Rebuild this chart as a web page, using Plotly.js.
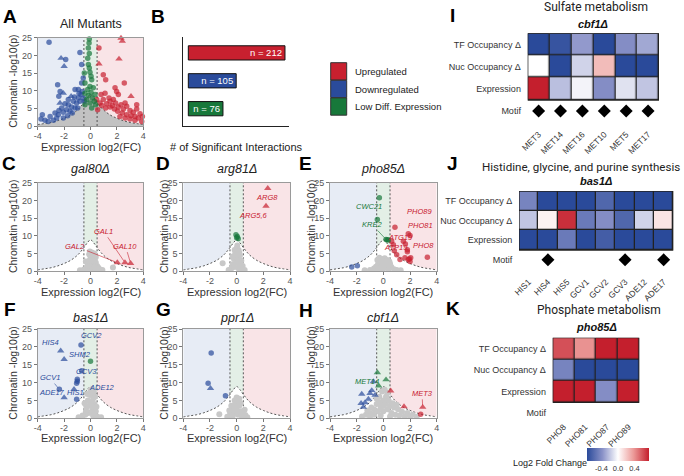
<!DOCTYPE html>
<html><head><meta charset="utf-8">
<script src="https://cdn.plot.ly/plotly-3.0.1.min.js"></script>
<style>html,body{margin:0;padding:0;background:#fff}#chart{width:684px;height:476px}</style>
</head><body><div id="chart"></div>
<script>
const W=684,H=476;
const FONT='"Liberation Sans", Arial, sans-serif';
const ROBOTO='Roboto, "Liberation Sans", sans-serif';
const BLUE='#2a4b9b', RED='#c8202f', GREEN='#17783a', GRAY='#c8c8c8';
const SHADE_BLUE='#e7ecf5', SHADE_GREEN='#e3efe6', SHADE_RED='#f9e4e7';
const FC_CUT=0.5;

// significance threshold curve
const curveX=[-4,-3.5,-3,-2.5,-2,-1.5,-1,-0.75,-0.5,-0.25,0,0.25,0.5,0.75,1,1.5,2,2.5,3,3.5,4];
const curveY=[0.4,0.7,1.0,1.5,2.2,3.1,4.5,5.5,6.7,8.0,8.9,8.0,6.7,5.5,4.5,3.1,2.2,1.5,1.0,0.7,0.4];

// ---- Panel A: All mutants  [x, y, shape]
const A_down=[[-3.14,23.7,'o'],[-2.23,19.2,'t'],[-1.88,18.8,'o'],[-2.0,16.9,'t'],[-0.8,20.8,'o'],[-0.67,17.4,'o'],
 [-2.49,11.7,'o'],[-2.3,9.8,'o'],[-2.06,9.3,'t'],[-2.4,8.4,'o'],[-1.17,10.3,'o'],[-0.92,10.3,'o'],[-0.67,12.2,'o'],[-0.55,13.6,'o'],
 [-3.65,3.2,'o'],[-3.75,2.0,'o'],[-3.45,1.6,'o'],[-3.2,1.3,'o'],[-2.8,1.6,'o'],[-3.06,2.7,'o'],[-2.44,3.2,'o'],[-2.39,4.4,'o'],
 [-2.18,5.1,'o'],[-2.06,3.9,'o'],[-1.81,4.6,'o'],[-1.68,6.0,'o'],[-1.93,6.3,'o'],[-1.55,4.2,'o'],[-1.43,5.4,'o'],[-1.3,7.0,'o'],
 [-1.17,5.1,'o'],[-1.05,6.5,'o'],[-0.92,7.9,'o'],[-0.8,7.0,'o'],[-0.72,8.9,'o'],[-0.62,9.8,'o'],[-0.54,7.9,'o'],[-0.97,5.1,'o'],
 [-1.38,3.7,'o'],[-1.73,2.9,'o'],[-2.06,2.3,'o'],[-2.56,2.3,'o'],[-2.69,3.7,'o'],[-1.68,7.5,'o'],[-2.31,6.5,'t'],[-1.22,8.2,'o'],
 [-1.47,8.4,'t'],[-0.87,9.2,'o'],[-0.47,7.0,'o']];
const A_up=[[2.31,24.9,'t'],[2.41,24.0,'t'],[0.64,22.1,'o'],[2.16,19.0,'t'],[0.64,17.6,'t'],[0.97,14.5,'o'],[1.15,13.1,'o'],
 [2.56,12.2,'o'],[1.86,10.8,'o'],[1.98,9.8,'o'],[2.11,8.9,'o'],[3.07,8.4,'t'],[0.8,8.9,'o'],[1.1,9.3,'o'],
 [0.47,7.5,'o'],[0.72,6.5,'o'],[0.97,7.5,'o'],[1.22,6.3,'o'],[1.48,7.0,'o'],[1.65,5.8,'o'],[1.9,6.5,'o'],[2.1,5.4,'o'],
 [2.31,6.0,'o'],[2.49,4.8,'o'],[2.74,5.6,'o'],[2.99,4.4,'o'],[3.24,3.9,'o'],[3.5,4.8,'o'],[3.75,3.5,'o'],[3.93,2.7,'o'],
 [3.62,2.3,'o'],[3.37,2.7,'o'],[3.07,2.9,'o'],[2.74,3.2,'o'],[2.41,3.7,'o'],[2.06,4.2,'o'],[1.81,4.8,'o'],[1.48,5.4,'o'],
 [1.15,5.1,'o'],[0.85,5.8,'o'],[1.4,7.9,'o'],[1.73,7.5,'o'],[3.88,1.3,'o'],[3.37,1.6,'o'],[2.99,2.0,'o'],[2.62,2.3,'o'],
 [2.23,2.7,'o'],[3.5,6.0,'o'],[2.62,6.5,'o'],[0.54,4.6,'o']];
const A_low=[[-0.09,24.6,'o'],[-0.11,23.5,'o'],[-0.16,22.1,'o'],[-0.09,20.5,'o'],[-0.21,19.2,'o'],[-0.16,17.4,'o'],[-0.09,16.4,'o'],
 [-0.04,15.2,'o'],[-0.47,15.0,'o'],[0.04,14.1,'o'],[0.09,13.1,'o'],[-0.42,12.2,'o'],[-0.04,11.2,'o'],[0.21,10.8,'o'],[-0.21,10.3,'o'],
 [0.04,9.5,'o'],[-0.42,9.3,'o'],[0.34,8.9,'o'],[-0.16,8.6,'o'],[0.14,7.9,'o'],[-0.29,7.5,'o'],[0.29,7.0,'o'],[-0.04,6.5,'o'],
 [-0.42,6.0,'o'],[0.39,6.0,'o'],[0.09,5.1,'o']];

// ---- Panel C: gal80
const C_up=[[2.03,2.45,'t'],[2.61,2.45,'t'],[3.04,2.26,'t']];
const C_gray=[[-0.3,1],[-0.2,2],[-0.1,3],[0,4],[0.1,5.3],[0.2,4.5],[0.3,3.5],[0.4,2.5],[0.5,1.5],[0.6,1],[0.1,2.5],[0,1.2],[-0.1,4.8],
 [0.2,1.8],[0.3,5],[-0.35,2.8],[0.05,3.5],[0.25,2.8],[0.7,0.5],[-0.5,0.5],[1.7,1.1],[-0.2,0.4],[0.4,4.0],[0.15,0.6],[-0.05,5.6],
 [0.45,0.8],[0.9,0.4],[-0.8,0.3],[0.15,3.0],[-0.15,1.5],[0.35,1.2]];
const C_labels=[['GAL2',RED,-1.15,7.1,2.03,2.45],['GAL1',RED,1.0,11.3,2.61,2.45],['GAL10',RED,2.65,7.1,3.04,2.26]];

// ---- Panel D: arg81
const D_up=[[2.33,23.4,'t'],[2.2,18.4,'t']];
const D_low=[[-0.05,10.3,'o'],[0.05,9.8,'o'],[0.12,9.2,'o'],[0.0,9.5,'o']];
const D_gray=[[-0.4,0.8],[-0.3,2],[-0.2,3.5],[-0.1,5],[0,6.5],[0.05,7.3],[0.15,6],[0.25,4.5],[0.35,3],[0.45,1.5],[0,2.5],[0.1,1],
 [-0.15,6],[0.2,5.2],[-0.05,3.8],[0.1,3.5],[0.3,1.8],[-0.3,4.2],[-1.05,2.3],[0.6,0.4],[-0.6,0.4],[0.2,0.5],[-0.2,1.2],[0.05,4.8],[0.4,0.6]];
const D_labels=[['ARG8',RED,2.25,20.9],['ARG5,6',RED,1.3,15.8]];

// ---- Panel E: pho85
const E_low=[[-0.3,20.75,'o'],[-0.45,14.6,'o'],[0.2,9.0,'o'],[0.37,8.8,'o'],[0.28,8.9,'o']];
const E_up=[[0.87,12.45,'o'],[1.87,10.6,'o'],[2.0,10.1,'o'],[0.62,8.5,'o'],[0.75,7.5,'o'],[0.82,5.8,'o'],[1.0,4.7,'o'],[1.25,3.3,'o'],
 [1.62,3.8,'o'],[1.8,5.5,'o'],[1.8,6.1,'o'],[1.87,3.3,'o'],[2.0,2.8,'o'],[3.3,3.96,'o'],[1.5,8.5,'o'],[1.65,7.7,'o'],[1.95,3.5,'o'],[2.05,3.8,'o']];
const E_down=[[-2.37,1.23,'o'],[-1.95,1.6,'o']];
const E_gray=[[-0.45,3.2],[-0.3,3.8],[-0.1,3.5],[0.1,3.7],[0.3,3.2],[0.45,2.8],[-0.4,2],[0,2.2],[0.3,1.8],[-0.2,1],[0.2,1],[0.6,1.2],
 [0.8,0.6],[-0.7,0.8],[-1,0.4],[1.0,0.4],[0.5,2.1],[-0.55,1.3],[-0.2,2.8],[0.15,2.7],[0.05,1.3],[-0.05,0.5],[0.4,0.5],[-0.35,0.4],[1.3,0.3],[-1.4,0.3]];
const E_labels=[['CWC21',GREEN,-1.1,18.3],['KRE2',GREEN,-0.85,13.2,0.2,9.0],['PHO89',RED,2.7,17.0],['PHO81',RED,2.75,12.9],
 ['ATG19',RED,1.25,9.6],['ATP19',RED,0.95,6.8],['PHO8',RED,3.0,7.4]];

// ---- Panel F: bas1
const F_down=[[-2.26,18.9,'t'],[-2.0,16.5,'t'],[-0.72,20.5,'o'],[-0.67,13.3,'o'],[-1.0,10.9,'o'],[-1.0,10.35,'o'],[-1.05,9.8,'o'],
 [-2.36,8.1,'o'],[-1.25,8.1,'t'],[-2.0,5.8,'t'],[-1.05,5.3,'o']];
const F_low=[[0.0,16.0,'o']];
const F_gray=[[-0.4,1],[-0.3,3],[-0.2,5],[-0.05,6.5],[0,8],[0.1,7],[0.2,5.5],[0.3,4],[0.4,2],[-0.1,3.5],[0.1,2],[0.2,0.8],[-0.25,6.8],
 [0.05,4.5],[0.35,6],[-0.45,4.2],[0.5,0.5],[-0.6,0.8],[-0.9,0.3],[0.8,0.3],[0.15,3.2],[-0.15,1.5],[0.25,7.2],[-0.35,2],[0.45,3.2]];
const F_labels=[['HIS4',BLUE,-3.05,21.3],['GCV2',BLUE,0.05,23.1],['SHM2',BLUE,-0.8,17.9],['GCV3',BLUE,-0.3,13.1],
 ['GCV1',BLUE,-3.1,11.4,-2.36,8.1],['ADE17',BLUE,-2.9,7.2],['HIS1',BLUE,-1.15,7.2],['ADE12',BLUE,0.9,8.7]];

// ---- Panel G: ppr1
const G_down=[[-1.91,18.3,'o'],[-2.14,9.8,'o'],[-1.96,8.4,'t'],[-0.84,6.3,'o']];
const G_gray=[[-0.5,1],[-0.3,2.5],[-0.1,4],[0,5.8],[0.1,4.8],[0.2,3.5],[0.35,2],[0.5,1],[-0.2,1.5],[0.1,1],[0,3],[-1.3,1.1],[0.65,0.9],
 [-0.4,3.5],[0.3,4.2],[0.05,2],[-0.7,0.4],[0.8,0.3],[-0.15,5],[0.2,5.5],[0.4,0.4],[-0.3,0.5],[0.6,2.4],[-0.55,2.2]];

// ---- Panel H: cbf1
const H_low=[[-0.45,12.8,'t'],[0.2,10.8,'t'],[-0.35,9.1,'t']];
const H_down=[[-0.75,10.3,'t'],[-1.62,6.8,'t'],[-1.12,5.4,'t'],[-0.87,7.8,'t'],[-1.0,7.0,'t'],[-0.62,6.5,'t'],[-1.37,4.4,'t'],[-1.67,4.2,'t'],[-1.5,3.1,'t']];
const H_up=[[0.55,7.7,'t'],[1.55,3.3,'t'],[2.95,3.1,'t'],[2.8,1.1,'o']];
const H_gray=[[-1.6,0.5],[-1.3,1],[-1.0,1.5],[-1,0.5],[-0.7,2.5],[-0.7,1],[-0.5,4],[-0.4,2],[-0.3,6],[-0.2,3],[-0.1,7.5],[0,5],[0,2],
 [0.1,8],[0.15,4],[0.2,6],[0.3,2.5],[0.4,5],[0.5,3.5],[0.6,1.5],[0.8,3],[0.9,1],[1.1,2.5],[1.2,0.8],[1.4,1.8],[1.6,0.6],[1.8,1.5],
 [2.0,0.5],[2.2,1],[2.5,0.4],[-0.5,5.5],[0.3,7],[-0.2,0.8],[0.7,4.2],[-0.9,3],[-1.2,2.2],[1.0,3.8],[0.5,0.5],[-0.3,4.5],[0.0,3.5]];
const H_labels=[['MET14',GREEN,-1.2,10.3],['MET3',RED,2.9,7.0,2.95,3.1]];

// ---- Panel B
const B_cats=['Upregulated','Downregulated','Low Diff. Expression'];
const B_counts=[212,105,76];
const B_colors=[RED,BLUE,GREEN];

// ---- Heatmaps
const HM_ROWS=['TF Occupancy Δ','Nuc Occupancy Δ','Expression'];
const I_genes=['MET3','MET14','MET16','MET10','MET5','MET17'];
const I_tf=[-0.8,-0.7,-0.35,-0.8,-0.4,-0.3];
const I_nuc=[0.0,-0.8,-0.15,0.25,-0.8,-0.8];
const I_expr=[0.8,-0.22,-0.04,-0.4,-0.1,-0.2];
const I_motif=['MET3','MET14','MET16','MET10','MET5','MET17'];
const J_genes=['HIS1','HIS4','HIS5','GCV1','GCV2','GCV3','ADE12','ADE17'];
const J_tf=[-0.45,-0.8,-0.8,-0.75,-0.6,-0.8,-0.8,-0.8];
const J_nuc=[-0.2,0.05,0.7,-0.5,-0.4,-0.6,-0.15,0.1];
const J_expr=[-0.8,-0.8,-0.5,-0.8,-0.65,-0.8,-0.8,-0.8];
const J_motif=['HIS4','GCV3','ADE17'];
const K_genes=['PHO8','PHO81','PHO87','PHO89'];
const K_tf=[0.6,0.4,0.8,0.8];
const K_nuc=[-0.45,-0.8,-0.8,-0.8];
const K_expr=[0.8,0.8,-0.4,0.8];
const K_motif=[];

// ================= build =================
const traces=[], shapes=[], annotations=[], layout={};
const fx=px=>px/W, fy=py=>1-py/H;
function ann(text,x,y,o){annotations.push(Object.assign({text,x:fx(x),y:fy(y),xref:'paper',yref:'paper',showarrow:false,xanchor:'center',yanchor:'middle',font:{family:FONT,size:11,color:'#222'}},o||{}));}

const COLS=[[37.7,143.3],[183.3,290],[330,436.7]];
const ROWSP=[[37.7,126],[182.7,271.3],[329,418.3]];
const TITLE_Y=[24,169,318], XTITLE_Y=[147,292,438], YTITLE_X=[13,164,311];

const panels=[
 {n:1,c:0,r:0,title:'All Mutants',it:false,up:A_up,down:A_down,low:A_low,gray:[],fillGray:true,labels:[]},
 {n:3,c:0,r:1,title:'gal80Δ',it:true,up:C_up,down:[],low:[],gray:C_gray,labels:C_labels},
 {n:4,c:1,r:1,title:'arg81Δ',it:true,up:D_up,down:[],low:D_low,gray:D_gray,labels:D_labels},
 {n:5,c:2,r:1,title:'pho85Δ',it:true,up:E_up,down:E_down,low:E_low,gray:E_gray,labels:E_labels},
 {n:6,c:0,r:2,title:'bas1Δ',it:true,up:[],down:F_down,low:F_low,gray:F_gray,labels:F_labels},
 {n:7,c:1,r:2,title:'ppr1Δ',it:true,up:[],down:G_down,low:[],gray:G_gray,labels:[]},
 {n:8,c:2,r:2,title:'cbf1Δ',it:true,up:H_up,down:H_down,low:H_low,gray:H_gray,labels:H_labels}
];
function pts(list,color,xa,ya){
  return {type:'scatter',mode:'markers',x:list.map(p=>p[0]),y:list.map(p=>p[1]),xaxis:xa,yaxis:ya,cliponaxis:false,hoverinfo:'skip',
    marker:{color,size:list.map(p=>p[2]==='t'?6.5:5.5),symbol:list.map(p=>p[2]==='t'?'triangle-up':'circle'),line:{width:0}}};
}
panels.forEach(p=>{
  const xa='x'+(p.n===1?'':p.n), ya='y'+(p.n===1?'':p.n);
  const [x0,x1]=COLS[p.c],[y0,y1]=ROWSP[p.r];
  const axc={showgrid:false,zeroline:false,showline:true,linecolor:'#9a9a9a',linewidth:1,mirror:true,ticks:'outside',ticklen:3,tickcolor:'#777',
    tickfont:{family:FONT,size:9,color:'#555'},fixedrange:true};
  layout['xaxis'+(p.n===1?'':p.n)]=Object.assign({},axc,{domain:[fx(x0),fx(x1)],anchor:ya,range:[-4,4],tickvals:[-4,-2,0,2,4],ticktext:['-4','-2','0','2','4'],ticklabelstandoff:-2});
  layout['yaxis'+(p.n===1?'':p.n)]=Object.assign({},axc,{domain:[fy(y1),fy(y0)],anchor:xa,range:[0,25],tickvals:[0,5,10,15,20,25],ticktext:['0','5','10','15','20','25']});
  [[-4,-FC_CUT,SHADE_BLUE],[-FC_CUT,FC_CUT,SHADE_GREEN],[FC_CUT,4,SHADE_RED]].forEach(s=>shapes.push({type:'rect',xref:xa,yref:ya,x0:s[0],x1:s[1],y0:0,y1:25,fillcolor:s[2],line:{width:0},layer:'below'}));
  traces.push({type:'scatter',mode:'lines',x:curveX,y:curveY,xaxis:xa,yaxis:ya,fill:'tozeroy',fillcolor:p.fillGray?'#c2c2c2':'#ffffff',
    line:{color:'#555',width:1,dash:'2px,2px',shape:'spline'},hoverinfo:'skip'});
  traces.push({type:'scatter',mode:'lines',x:[-FC_CUT,-FC_CUT,null,FC_CUT,FC_CUT],y:[0,25,null,0,25],xaxis:xa,yaxis:ya,line:{color:'#555',width:1,dash:'2px,2px'},hoverinfo:'skip'});
  if(p.gray.length) traces.push({type:'scatter',mode:'markers',x:p.gray.map(q=>q[0]),y:p.gray.map(q=>q[1]),xaxis:xa,yaxis:ya,hoverinfo:'skip',marker:{color:GRAY,size:6,line:{width:0}}});
  if(p.down.length) traces.push(pts(p.down,BLUE,xa,ya));
  if(p.up.length) traces.push(pts(p.up,RED,xa,ya));
  if(p.low.length) traces.push(pts(p.low,GREEN,xa,ya));
  p.labels.forEach(l=>{
    const o={xref:xa,yref:ya,text:'<i>'+l[0]+'</i>',font:{family:FONT,size:7.5,color:l[1]},xanchor:'center',yanchor:'middle'};
    if(l.length>4){Object.assign(o,{x:l[4],y:l[5],ax:l[2],ay:l[3],axref:xa,ayref:ya,showarrow:true,arrowhead:0,arrowwidth:0.6,arrowcolor:l[1],standoff:2});}
    else Object.assign(o,{x:l[2],y:l[3],showarrow:false});
    annotations.push(o);
  });
  ann(p.it?'<i>'+p.title+'</i>':p.title,(x0+x1)/2,TITLE_Y[p.r],{font:{family:FONT,size:12.5,color:'#222'}});
  ann('Expression log2(FC)',(x0+x1)/2,XTITLE_Y[p.r],{font:{family:FONT,size:11,color:'#333'}});
  ann('Chromatin -log10(p)',YTITLE_X[p.c],(y0+y1)/2,{textangle:-90,font:{family:FONT,size:10.5,color:'#333'}});
});

// ---- Panel B bars
traces.push({type:'bar',orientation:'h',x:B_counts,y:B_cats,xaxis:'x2',yaxis:'y2',width:0.51,
  marker:{color:B_colors,line:{color:'#111',width:1}},text:B_counts.map(v=>'n = '+v),textposition:'inside',insidetextanchor:'end',constraintext:'none',
  textfont:{family:FONT,size:9.5,color:'#fff'},hoverinfo:'skip'});
layout.xaxis2={domain:[fx(183.3),fx(289.3)],anchor:'y2',range:[-11,221.5],showline:true,linecolor:'#222',linewidth:1,showgrid:false,zeroline:false,showticklabels:false,ticks:'',fixedrange:true};
layout.yaxis2={domain:[fy(125.7),fy(36.7)],anchor:'x2',type:'category',categoryorder:'array',categoryarray:B_cats,range:[2.61,-0.58],showline:true,linecolor:'#222',linewidth:1,showgrid:false,zeroline:false,showticklabels:false,ticks:'',fixedrange:true};
ann('# of Significant Interactions',236.5,147,{font:{family:FONT,size:11,color:'#222'}});
B_cats.forEach((c,i)=>{
  const top=62.7+i*17.6;
  shapes.push({type:'rect',xref:'paper',yref:'paper',x0:fx(330.7),x1:fx(346.7),y0:fy(top+17.3),y1:fy(top),fillcolor:B_colors[i],line:{color:'#333',width:1}});
  ann(c,353.3,top+8.7,{xanchor:'left',font:{family:FONT,size:9.5,color:'#222'}});
});

// ---- Heatmaps
const HM=[
 {n:9,genes:I_genes,z:[I_tf,I_nuc,I_expr],motif:I_motif,box:[527.7,659,33.3,122.2],title:'Sulfate metabolism',sub:'cbf1Δ',ty:7.5,sy:23.5,tcx:596,tsz:12,so:0},
 {n:10,genes:J_genes,z:[J_tf,J_nuc,J_expr],motif:J_motif,box:[519,673.3,191,269.7],title:'Histidine, glycine, and purine synthesis',sub:'bas1Δ',ty:166.5,sy:181,tcx:581,tsz:11.6,so:0},
 {n:11,genes:K_genes,z:[K_tf,K_nuc,K_expr],motif:K_motif,box:[552.7,639.3,337.7,423.8],title:'Phosphate metabolism',sub:'pho85Δ',ty:310,sy:327,tcx:599,tsz:12,so:-9}
];
HM.forEach(h=>{
  const xa='x'+h.n, ya='y'+h.n, [x0,x1,y0,y1]=h.box, nG=h.genes.length;
  traces.push({type:'heatmap',x:h.genes,y:HM_ROWS,z:h.z,coloraxis:'coloraxis',xaxis:xa,yaxis:ya,xgap:1.3,ygap:1.3,hoverinfo:'skip'});
  traces.push({type:'scatter',mode:'markers',x:h.motif,y:h.motif.map(()=> 'Motif'),xaxis:xa,yaxis:ya,hoverinfo:'skip',cliponaxis:false,
    marker:{symbol:'diamond',size:10,color:'#000',line:{width:0}}});
  layout['xaxis'+h.n]={domain:[fx(x0),fx(x1)],anchor:ya,type:'category',categoryorder:'array',categoryarray:h.genes,range:[-0.5,nG-0.5],
    tickangle:-45,ticks:'outside',ticklen:3,tickcolor:'rgba(0,0,0,0)',tickfont:{family:FONT,size:8.5,color:'#333'},ticklabelstandoff:h.so,showgrid:false,zeroline:false,showline:false,fixedrange:true};
  layout['yaxis'+h.n]={domain:[fy(y1),fy(y0)],anchor:xa,type:'category',categoryorder:'array',categoryarray:HM_ROWS.concat(['Motif']),range:[3.5,-0.5],
    ticks:'outside',ticklen:4,tickcolor:'rgba(0,0,0,0)',tickfont:{family:FONT,size:9,color:'#333'},showgrid:false,zeroline:false,showline:false,fixedrange:true};
  shapes.push({type:'rect',xref:xa,yref:ya,x0:-0.5,x1:nG-0.5,y0:-0.5,y1:2.5,fillcolor:'#222',line:{width:0},layer:'below'});
  shapes.push({type:'rect',xref:xa,yref:ya,x0:-0.5,x1:nG-0.5,y0:-0.5,y1:2.5,fillcolor:'rgba(0,0,0,0)',line:{color:'#222',width:1.3},layer:'above'});
  ann(h.title,h.tcx,h.ty,{font:{family:ROBOTO,size:h.tsz,color:'#222'}});
  ann('<b><i>'+h.sub+'</i></b>',(x0+x1)/2,h.sy,{font:{family:FONT,size:11,color:'#111'}});
});
layout.coloraxis={cmin:-0.75,cmax:0.75,
  colorscale:[[0,'#2a4a9a'],[0.25,'#8a92c8'],[0.5,'#ffffff'],[0.75,'#ec9a98'],[1,'#c41f2d']],
  colorbar:{orientation:'h',x:fx(618),xanchor:'center',y:fy(459),yanchor:'middle',len:62,lenmode:'pixels',thickness:13,thicknessmode:'pixels',
    outlinewidth:0,tickvals:[-0.4,0,0.4],ticktext:['-0.4','0.0','0.4'],ticks:'',tickfont:{family:FONT,size:7.5,color:'#333'},xpad:0,ypad:0}};
ann('Log2 Fold Change',550,463,{font:{family:FONT,size:9,color:'#222'}});

// ---- panel letters
[['A',10,17],['B',158,17],['C',9,163],['D',163,163],['E',305,163],['F',10,309],['G',163,309],['H',306,310],['I',453,16],['J',452,163],['K',453,308]]
 .forEach(l=>ann('<b>'+l[0]+'</b>',l[1],l[2],{font:{family:FONT,size:19,color:'#000'}}));

Object.assign(layout,{width:W,height:H,margin:{l:0,r:0,t:0,b:0},paper_bgcolor:'#fff',plot_bgcolor:'rgba(0,0,0,0)',showlegend:false,
  shapes,annotations,font:{family:FONT}});
Plotly.newPlot('chart',traces,layout,{displayModeBar:false,staticPlot:true});
</script></body></html>
